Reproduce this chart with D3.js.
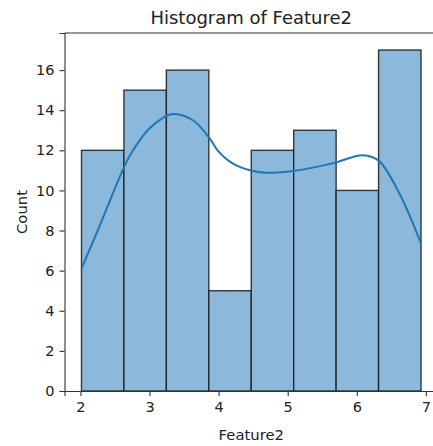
<!DOCTYPE html>
<html>
<head>
<meta charset="utf-8">
<script src="https://cdn.jsdelivr.net/npm/d3@7"></script>
<style>
  html, body { margin: 0; padding: 0; background: #fff; overflow: hidden; }
  text { font-family: "DejaVu Sans", sans-serif; fill: #222; }
</style>
</head>
<body>
<svg id="chart" width="433" height="446"></svg>
<script>
// Histogram of Feature2: 8 equal-width bins between binStart and binEnd
const binStart = 2.015;
const binEnd = 6.93;
const counts = [12, 15, 16, 5, 12, 13, 10, 17];

// Kernel density estimate, scaled to counts, sampled along Feature2
const kdeX = [2.015, 2.28, 2.636, 2.761, 3.002, 3.316, 3.628, 3.87, 3.985, 4.202, 4.481, 4.689, 5.099, 5.648, 6.086, 6.313, 6.617, 6.93];
const kdeY = [6.1, 8.25, 11.2, 12.0, 13.1, 13.8, 13.5, 12.6, 12.0, 11.35, 10.98, 10.88, 10.98, 11.35, 11.76, 11.5, 9.85, 7.35];

const xTicks = [2, 3, 4, 5, 6, 7];
const yTicks = [0, 2, 4, 6, 8, 10, 12, 14, 16];

const svg = d3.select("#chart");
const plot = { left: 64.5, right: 438, top: 33, bottom: 391 };

const span = binEnd - binStart;
const x = d3.scaleLinear()
  .domain([binStart - 0.05 * span, binEnd + 0.05 * span])
  .range([plot.left, plot.right]);
const y = d3.scaleLinear()
  .domain([0, d3.max(counts) * 1.05])
  .range([plot.bottom, plot.top]);

const binW = span / counts.length;
const bins = counts.map((c, i) => ({ x0: binStart + i * binW, x1: binStart + (i + 1) * binW, c }));

// bars
svg.append("g").selectAll("rect").data(bins).join("rect")
  .attr("x", d => x(d.x0))
  .attr("y", d => y(d.c))
  .attr("width", d => x(d.x1) - x(d.x0))
  .attr("height", d => y(0) - y(d.c))
  .attr("fill", "#8cb8db")
  .attr("stroke", "#1a1a1a")
  .attr("stroke-opacity", 0.85)
  .attr("stroke-width", 1.4);

// density curve
const kde = kdeX.map((v, i) => [v, kdeY[i]]);
svg.append("path")
  .datum(kde)
  .attr("fill", "none")
  .attr("stroke", "#1f77b4")
  .attr("stroke-width", 2)
  .attr("d", d3.line().x(d => x(d[0])).y(d => y(d[1])).curve(d3.curveCatmullRom.alpha(0.5)));

// axes
const xAxis = svg.append("g")
  .attr("transform", `translate(0,${plot.bottom})`)
  .call(d3.axisBottom(x).tickValues(xTicks).tickFormat(d3.format("d")).tickSize(5).tickPadding(6));
const yAxis = svg.append("g")
  .attr("transform", `translate(${plot.left},0)`)
  .call(d3.axisLeft(y).tickValues(yTicks).tickFormat(d3.format("d")).tickSize(5).tickPadding(5));

[xAxis, yAxis].forEach(g => {
  g.select(".domain").attr("stroke", "#333").attr("stroke-width", 1.1);
  g.selectAll(".tick line").attr("stroke", "#333").attr("stroke-width", 1.1);
  g.selectAll(".tick text").attr("font-size", 14.5).attr("fill", "#222")
    .attr("font-family", "DejaVu Sans, sans-serif");
});

// top and right spines
svg.append("line")
  .attr("x1", plot.left).attr("x2", plot.right)
  .attr("y1", plot.top).attr("y2", plot.top)
  .attr("stroke", "#333").attr("stroke-width", 1.1);
svg.append("line")
  .attr("x1", plot.right).attr("x2", plot.right)
  .attr("y1", plot.top).attr("y2", plot.bottom)
  .attr("stroke", "#333").attr("stroke-width", 1.1);

// title and axis labels
svg.append("text")
  .attr("x", (plot.left + plot.right) / 2).attr("y", 23.5)
  .attr("text-anchor", "middle").attr("font-size", 18)
  .text("Histogram of Feature2");
svg.append("text")
  .attr("x", (plot.left + plot.right) / 2).attr("y", 440)
  .attr("text-anchor", "middle").attr("font-size", 14.8)
  .text("Feature2");
svg.append("text")
  .attr("transform", `translate(26.5,${(plot.top + plot.bottom) / 2}) rotate(-90)`)
  .attr("text-anchor", "middle").attr("font-size", 14.8)
  .text("Count");
</script>
</body>
</html>
